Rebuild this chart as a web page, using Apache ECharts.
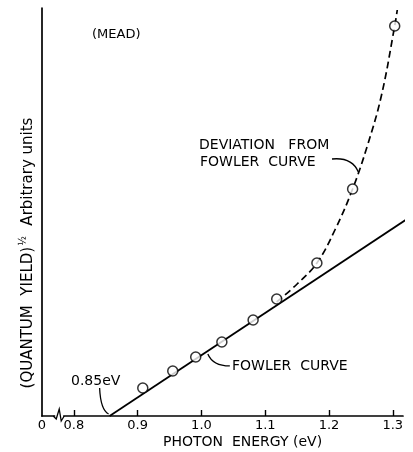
<!DOCTYPE html>
<html>
<head>
<meta charset="utf-8">
<script src="https://cdn.jsdelivr.net/npm/echarts@6/dist/echarts.min.js"></script>
<style>
html,body{margin:0;padding:0;background:#fff;}
#c{width:413px;height:452px;}
</style>
</head>
<body>
<div id="c"></div>
<script>
// ---- data ----
const xTicks = [0.8, 0.9, 1.0, 1.1, 1.2, 1.3];
const xLabelValues = [0.75, 0.8, 0.9, 1.0, 1.1, 1.2, 1.3];   // 0.75 is the broken-axis origin, labelled "0"
const energy = [0.908, 0.955, 0.991, 1.032, 1.081, 1.118, 1.181, 1.237, 1.303];
const yieldVals = [2.8, 4.5, 5.9, 7.4, 9.6, 11.7, 15.3, 22.7, 39.0];
const fowlerX = [0.856, 1.327];
const fowlerY = [0, 19.9];
const devX = [1.118, 1.150, 1.181, 1.210, 1.237, 1.260, 1.282, 1.303, 1.307];
const devY = [11.4, 13.2, 15.3, 18.7, 22.7, 27.0, 32.0, 39.0, 40.6];
const threshold = 0.856;

const FONT = '"DejaVu Sans", sans-serif';
const INK = '#000';

const pts = energy.map((e, i) => [e, yieldVals[i]]);
const fowler = fowlerX.map((e, i) => [e, fowlerY[i]]);
const dev = devX.map((e, i) => [e, devY[i]]);

const chart = echarts.init(document.getElementById('c'), null, {renderer: 'canvas'});
chart.setOption({
  animation: false,
  backgroundColor: '#fff',
  grid: {left: 42, right: 10, top: 8, bottom: 36, outerBoundsMode: 'none'},
  xAxis: {
    type: 'value', min: 0.75, max: 1.316,
    axisLine: {lineStyle: {color: INK, width: 1.7}},
    axisTick: {show: true, inside: true, length: 6, customValues: xTicks, lineStyle: {color: INK, width: 1.4}},
    axisLabel: {
      customValues: xLabelValues, margin: 3, color: INK, fontFamily: FONT, fontSize: 13,
      formatter: v => Math.abs(v - 0.75) < 1e-6 ? '0' : v.toFixed(1)
    },
    splitLine: {show: false}
  },
  yAxis: {
    type: 'value', min: 0, max: 40.8,
    axisLine: {show: true, lineStyle: {color: INK, width: 1.7}},
    axisTick: {show: false}, axisLabel: {show: false}, splitLine: {show: false}
  },
  series: [
    {type: 'line', data: fowler, symbol: 'none', clip: false,
     lineStyle: {color: INK, width: 1.8}, z: 2},
    {type: 'line', data: dev, symbol: 'none', smooth: 0.4, clip: false,
     lineStyle: {color: INK, width: 1.7, type: [7, 4]}, z: 2},
    {type: 'scatter', data: pts, symbol: 'circle', symbolSize: 10,
     itemStyle: {color: '#fff', borderColor: INK, borderWidth: 1.5}, z: 3}
  ]
});

function px(p) { return chart.convertToPixel({gridIndex: 0}, p); }
const foot = px([threshold, 0]);
const brk = px([0.777, 0]);
const lowLead = px([1.010, (1.010 - fowlerX[0]) * (fowlerY[1] - fowlerY[0]) / (fowlerX[1] - fowlerX[0])]);
const devLead = px([1.246, 24.3]);

function txt(x, y, s, size, extra) {
  return Object.assign({type: 'text', x: x, y: y, silent: true,
    style: {text: s, fill: INK, font: size + 'px ' + FONT, textVerticalAlign: 'middle', verticalAlign: 'middle'}}, extra || {});
}

chart.setOption({
  graphic: [
    // axis break
    {type: 'rect', shape: {x: brk[0] - 4, y: brk[1] - 2, width: 8, height: 4}, style: {fill: '#fff'}, z: 10},
    {type: 'polyline', shape: {points: [[brk[0] - 6, brk[1]], [brk[0] - 3, brk[1] + 3], [brk[0], brk[1] - 7], [brk[0] + 2, brk[1] + 5], [brk[0] + 5, brk[1]]]},
     style: {stroke: INK, lineWidth: 1.3, fill: 'none'}, z: 11},
    // labels
    txt(92, 35, '(MEAD)', 13),
    txt(199, 145, 'DEVIATION   FROM', 14),
    txt(200, 162, 'FOWLER  CURVE', 14),
    txt(232, 366, 'FOWLER  CURVE', 14),
    txt(71, 381, '0.85eV', 14),
    txt(163, 442, 'PHOTON  ENERGY (eV)', 14),
    {type: 'text', x: 28, y: 253, rotation: Math.PI / 2, silent: true,
     style: {
       text: '{a|(QUANTUM  YIELD)}{s|½}{a|  Arbitrary units}',
       align: 'center', verticalAlign: 'middle',
       rich: {
         a: {fontFamily: FONT, fontSize: 15, fill: INK, color: INK},
         s: {fontFamily: FONT, fontSize: 10, fill: INK, color: INK, verticalAlign: 'top', padding: [0, 1, 9, 1]}
       }
     }},
    // leaders
    {type: 'bezierCurve', shape: {x1: foot[0] - 10, y1: foot[1] - 28, cpx1: foot[0] - 9, cpy1: foot[1] - 6, x2: foot[0] - 1, y2: foot[1] - 2},
     style: {stroke: INK, lineWidth: 1.3, fill: 'none'}},
    {type: 'bezierCurve', shape: {x1: lowLead[0], y1: lowLead[1] + 3, cpx1: lowLead[0] + 5, cpy1: lowLead[1] + 15, x2: lowLead[0] + 22, y2: lowLead[1] + 15},
     style: {stroke: INK, lineWidth: 1.3, fill: 'none'}},
    {type: 'bezierCurve', shape: {x1: 332, y1: 159, cpx1: 352, cpy1: 157, x2: devLead[0], y2: devLead[1] - 1},
     style: {stroke: INK, lineWidth: 1.3, fill: 'none'}}
  ]
});
</script>
</body>
</html>
